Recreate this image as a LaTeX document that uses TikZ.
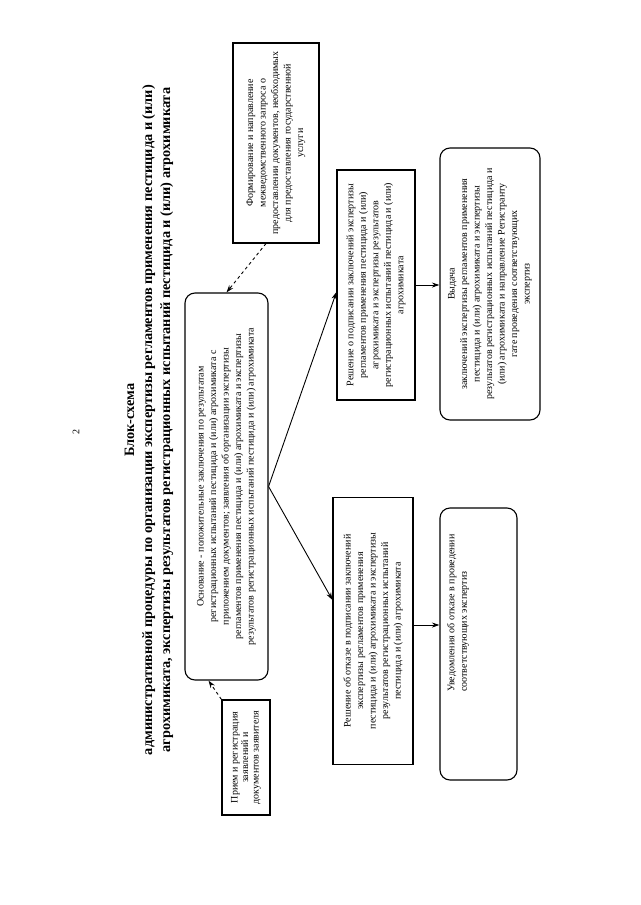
\documentclass[tikz,border=0pt]{standalone}
\usepackage{fontspec}
\setmainfont{Liberation Serif}
\usetikzlibrary{arrows.meta,calc}
\begin{document}
\begin{tikzpicture}[x=1pt,y=-1pt,
  box/.style={draw, line width=1.1pt, rotate=90, align=center, inner sep=2pt,
    font=\fontsize{10}{12.5}\selectfont},
  rbox/.style={box, rounded corners=10pt},
  txt/.style={rotate=90, align=center, inner sep=0pt, font=\fontsize{10}{12.5}\selectfont},
  arr/.style={line width=0.9pt, -{Stealth[length=7.5pt,width=5pt]}},
  darr/.style={arr, dashed}]
\useasboundingbox[fill=white] (0,0) rectangle (640,905);

% page number
\node[txt] (pnum) at (76,432) {2};

% title
\node[txt, font=\fontsize{14.3}{18}\selectfont\bfseries] (title) at (149,420)
 {Блок-схема\\административной процедуры по организации экспертизы регламентов применения пестицида и (или)\\агрохимиката, экспертизы результатов регистрационных испытаний пестицида и (или) агрохимиката};

% boxes
\node[box, minimum width=200, minimum height=86] (form) at (276,143)
 {Формирование и направление\\межведомственного запроса о\\предоставлении документов, необходимых\\для предоставления государственной\\услуги};

\node[rbox, minimum width=387, minimum height=83] (main) at (226.5,486.5)
 {Основание - положительные заключения по результатам\\регистрационных испытаний пестицида и (или) агрохимиката с\\приложением документов; заявления об организации экспертизы\\регламентов применения пестицида и (или) агрохимиката и экспертизы\\результатов регистрационных испытаний пестицида и (или) агрохимиката};

\node[box, minimum width=115, minimum height=48, font=\fontsize{10}{10.5}\selectfont] (priem) at (246,757.5)
 {Прием и регистрация\\заявлений и\\документов заявителя};

\node[box, minimum width=230, minimum height=78] (up) at (376,285)
 {Решение о подписании заключений экспертизы\\регламентов применения пестицида и (или)\\агрохимиката и экспертизы результатов\\регистрационных испытаний пестицида и (или)\\агрохимиката};

\node[box, minimum width=267, minimum height=80] (down) at (373,631)
 {Решение об отказе в подписании заключений\\экспертизы регламентов применения\\пестицида и (или) агрохимиката и экспертизы\\результатов регистрационных испытаний\\пестицида и (или) агрохимиката};

\node[rbox, minimum width=272, minimum height=100] (vyd) at (490,284)
 {Выдача\\заключений экспертизы регламентов применения\\пестицида и (или) агрохимиката и экспертизы\\результатов регистрационных испытаний пестицида и\\(или) агрохимиката и направление Регистранту\\гате проведения соответствующих\\экспертиз};

\node[rbox, minimum width=272, minimum height=77] (uved) at (478.5,644) {};
\node[txt, align=left] (uvedtxt) at (458,613)
 {Уведомления об отказе в проведении\\соответствующих экспертиз};

% connector end points
\coordinate (upin) at ($(up.north)+(0,7)$);
\coordinate (downin) at ($(down.north)+(0,-31)$);
\coordinate (formout) at ($(form.west)+(-10,0)$);
\coordinate (mainbot) at ($(main.west)+(-18,0)$);
\coordinate (downout) at ($(down.south)+(0,-6)$);

% connectors
\draw[darr] (formout) -- (main.east);
\draw[darr] (priem.north east) -- (mainbot);
\draw[arr] (main.south) -- (upin);
\draw[arr] (main.south) -- (downin);
\draw[arr] (up.south) -- (up.south -| vyd.north);
\draw[arr] (downout) -- (downout -| uved.north);
\end{tikzpicture}
\end{document}
